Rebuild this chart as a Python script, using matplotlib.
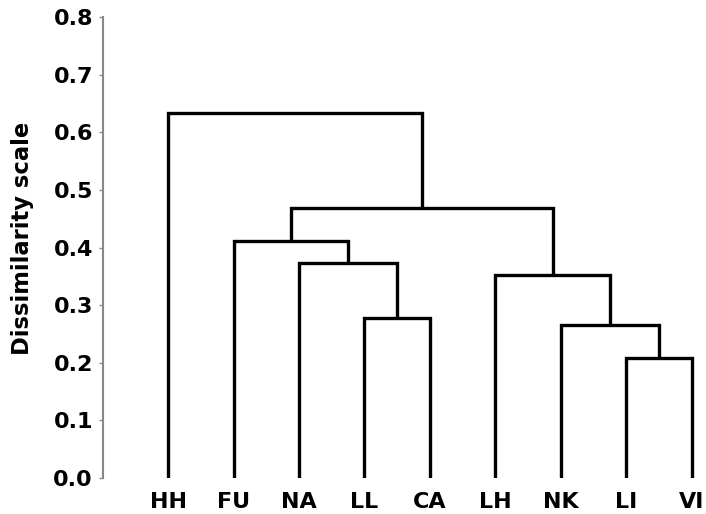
import matplotlib
matplotlib.use("Agg")
import matplotlib.pyplot as plt

# leaves in display order, and merges as (left, right, height)
leaves = ["HH", "FU", "NA", "LL", "CA", "LH", "NK", "LI", "VI"]
merges = [
    ("LL", "CA", 0.277),
    ("NA", "LL+CA", 0.373),
    ("FU", "NA+LL+CA", 0.411),
    ("LI", "VI", 0.208),
    ("NK", "LI+VI", 0.266),
    ("LH", "NK+LI+VI", 0.352),
    ("FU+NA+LL+CA", "LH+NK+LI+VI", 0.468),
    ("HH", "FU+NA+LL+CA+LH+NK+LI+VI", 0.633),
]
yticks = [0.0, 0.1, 0.2, 0.3, 0.4, 0.5, 0.6, 0.7, 0.8]

FONT = {"family": "DejaVu Sans", "weight": "bold", "size": 16}

fig = plt.figure(figsize=(7.06, 5.14), dpi=100)
ax = fig.add_axes([102.7 / 706, 1 - 478 / 514, 1 - 102.7 / 706, (478 - 17.2) / 514])

# node positions: x, height
nodes = {}
for i, name in enumerate(leaves):
    nodes[name] = (i + 1, 0.0)

for left, right, h in merges:
    xl, hl = nodes[left]
    xr, hr = nodes[right]
    ax.plot([xl, xl, xr, xr], [hl, h, h, hr], color="black", lw=2.4,
            solid_joinstyle="miter", solid_capstyle="butt")
    nodes[left + "+" + right] = ((xl + xr) / 2.0, h)

ax.set_xlim(0, 9.22)
ax.set_ylim(0, 0.8)
ax.set_yticks(yticks)
ax.set_yticklabels(["%.1f" % v for v in yticks], fontdict=FONT)
ax.tick_params(axis="y", direction="out", length=3, width=1, color="#888888", pad=4)
ax.set_xticks(range(1, len(leaves) + 1))
ax.set_xticklabels(leaves, fontdict=FONT)
ax.tick_params(axis="x", length=0, pad=10)

for s in ["top", "right", "bottom"]:
    ax.spines[s].set_visible(False)
ax.spines["left"].set_color("#888888")
ax.spines["left"].set_linewidth(1.5)

ax.set_ylabel("Dissimilarity scale", fontdict=dict(FONT, size=16.3))
ax.yaxis.set_label_coords(-(102.7 - 34) / (706 - 102.7), (478 - 238) / (478 - 17.2))

fig.savefig("out.png", dpi=100)
